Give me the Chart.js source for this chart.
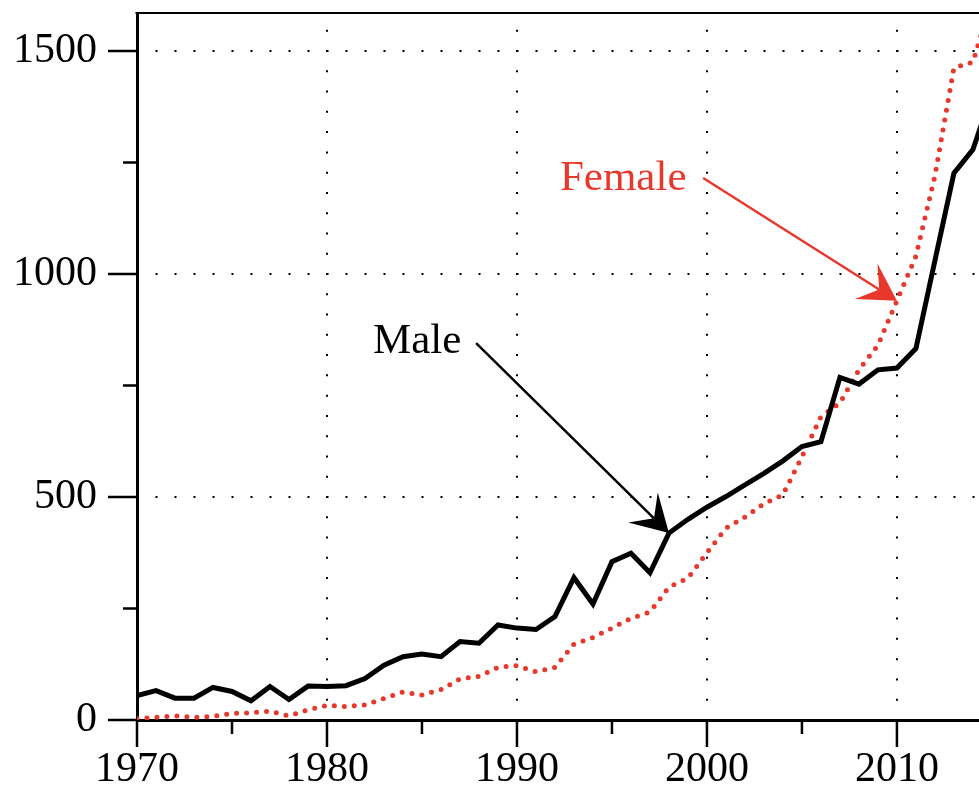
<!DOCTYPE html>
<html>
<head>
<meta charset="utf-8">
<title>Male / Female</title>
<script src="https://cdn.jsdelivr.net/npm/chart.js@4.4.1/dist/chart.umd.min.js"></script>
<style>
  html, body { margin: 0; padding: 0; background: #fff; }
  #wrap { width: 979px; height: 787px; position: relative; }
</style>
</head>
<body>
<div id="wrap"><canvas id="chart"></canvas></div>
<script>
// Yearly values
const years = [1970, 1971, 1972, 1973, 1974, 1975, 1976, 1977, 1978, 1979,
               1980, 1981, 1982, 1983, 1984, 1985, 1986, 1987, 1988, 1989,
               1990, 1991, 1992, 1993, 1994, 1995, 1996, 1997, 1998, 1999,
               2000, 2001, 2002, 2003, 2004, 2005, 2006, 2007, 2008, 2009,
               2010, 2011, 2012, 2013, 2014, 2015];
const male = [55, 66, 49, 49, 73, 64, 43, 75, 46, 76,
              75, 77, 93, 123, 142, 148, 142, 176, 172, 213,
              206, 203, 232, 319, 260, 355, 374, 330, 419, 450,
              477, 501, 527, 553, 581, 613, 624, 768, 753, 785,
              789, 833, 1030, 1226, 1279, 1405];
const female = [3, 6, 9, 6, 8, 15, 16, 20, 9, 23,
                33, 30, 34, 48, 63, 56, 68, 92, 98, 118,
                122, 108, 118, 170, 185, 206, 228, 242, 298, 318,
                375, 430, 455, 485, 505, 590, 680, 711, 785, 840,
                940, 1040, 1220, 1462, 1475, 1615];

const xTickValues = [1970, 1975, 1980, 1985, 1990, 1995, 2000, 2005, 2010];
const xLabelValues = [1970, 1980, 1990, 2000, 2010];
const yTickValues = [0, 250, 500, 750, 1000, 1250, 1500];
const yLabelValues = [0, 500, 1000, 1500];

const ink = '#000000';
const red = '#e8382c';
const serif = "'Liberation Serif', 'Times New Roman', serif";
const clear = 'rgba(0,0,0,0)';

// callouts, placed in data units; arrows point at a data point
const callouts = [
  { text: 'Male', color: ink, textAt: [1982.42, 822], from: [1987.85, 845], toYear: 1998, series: male },
  { text: 'Female', color: red, textAt: [1992.26, 1188], from: [1999.8, 1215], toYear: 2010, series: female }
];

function drawCallout(ctx, xs, ys, c) {
  const tx = xs.getPixelForValue(c.toYear);
  const ty = ys.getPixelForValue(c.series[years.indexOf(c.toYear)]);
  const fx = xs.getPixelForValue(c.from[0]);
  const fy = ys.getPixelForValue(c.from[1]);
  const back = Math.atan2(fy - ty, fx - tx);
  const len = 42, spread = 30 * Math.PI / 180;
  const nx = tx + len * 0.5 * Math.cos(back), ny = ty + len * 0.5 * Math.sin(back);

  ctx.strokeStyle = c.color;
  ctx.lineWidth = 2.5;
  ctx.beginPath();
  ctx.moveTo(fx, fy);
  ctx.lineTo(nx, ny);
  ctx.stroke();

  ctx.fillStyle = c.color;
  ctx.beginPath();
  ctx.moveTo(tx, ty);
  ctx.lineTo(tx + len * Math.cos(back + spread), ty + len * Math.sin(back + spread));
  ctx.lineTo(nx, ny);
  ctx.lineTo(tx + len * Math.cos(back - spread), ty + len * Math.sin(back - spread));
  ctx.closePath();
  ctx.fill();

  ctx.font = '43px ' + serif;
  ctx.textAlign = 'left';
  ctx.textBaseline = 'alphabetic';
  ctx.fillText(c.text, xs.getPixelForValue(c.textAt[0]), ys.getPixelForValue(c.textAt[1]));
}

// tick marks (long at labelled values), top frame line and the callouts
const axisDecor = {
  id: 'axisDecor',
  afterDraw(chart) {
    const { ctx, chartArea: area, scales: { x, y } } = chart;
    ctx.save();
    ctx.strokeStyle = ink;
    ctx.lineWidth = 2.5;
    ctx.beginPath();
    xTickValues.forEach(v => {
      const px = x.getPixelForValue(v);
      const len = xLabelValues.includes(v) ? 27 : 14;
      ctx.moveTo(px, area.bottom);
      ctx.lineTo(px, area.bottom + len);
    });
    yTickValues.forEach(v => {
      const py = y.getPixelForValue(v);
      const len = yLabelValues.includes(v) ? 29 : 14;
      ctx.moveTo(area.left, py);
      ctx.lineTo(area.left - len, py);
    });
    ctx.stroke();

    ctx.lineWidth = 2;
    ctx.beginPath();
    ctx.moveTo(area.left - 1.5, area.top);
    ctx.lineTo(area.right, area.top);
    ctx.stroke();

    callouts.forEach(c => drawCallout(ctx, x, y, c));
    ctx.restore();
  }
};

new Chart(document.getElementById('chart'), {
  type: 'line',
  data: {
    datasets: [
      {
        label: 'Male',
        data: years.map((yr, i) => ({ x: yr, y: male[i] })),
        borderColor: ink,
        borderWidth: 5,
        borderJoinStyle: 'miter',
        pointRadius: 0,
        tension: 0
      },
      {
        label: 'Female',
        data: years.map((yr, i) => ({ x: yr, y: female[i] })),
        borderColor: red,
        borderWidth: 5,
        borderDash: [0, 10],
        borderCapStyle: 'round',
        pointRadius: 0,
        tension: 0
      }
    ]
  },
  options: {
    responsive: true,
    maintainAspectRatio: false,
    animation: false,
    layout: { padding: { top: 13, right: 0, bottom: 0, left: 0 } },
    plugins: {
      legend: { display: false },
      tooltip: { enabled: false }
    },
    scales: {
      x: {
        type: 'linear',
        min: 1970,
        max: 2014.32,
        afterBuildTicks: s => { s.ticks = xTickValues.map(v => ({ value: v })); },
        afterFit: s => { s.height = 67; s.paddingLeft = 0; s.paddingRight = 0; },
        grid: {
          drawTicks: false,
          lineWidth: 2,
          color: c => (c.tick && c.tick.value !== 1970 && xLabelValues.includes(c.tick.value)) ? ink : clear
        },
        border: { color: ink, width: 3, dash: [2, 18.27], dashOffset: 3.5 },
        ticks: {
          color: ink,
          padding: 25,
          autoSkip: false,
          maxRotation: 0,
          minRotation: 0,
          font: { family: serif, size: 42 },
          callback: v => xLabelValues.includes(v) ? String(v) : ''
        }
      },
      y: {
        min: 0,
        max: 1585,
        afterBuildTicks: s => { s.ticks = yTickValues.map(v => ({ value: v })); },
        afterFit: s => { s.width = 137; s.paddingTop = 0; s.paddingBottom = 0; },
        grid: {
          drawTicks: false,
          lineWidth: 2,
          color: c => (c.tick && c.tick.value !== 0 && yLabelValues.includes(c.tick.value)) ? ink : clear
        },
        border: { color: ink, width: 3, dash: [2, 17], dashOffset: 2.5 },
        ticks: {
          color: ink,
          padding: 40,
          font: { family: serif, size: 42 },
          callback: v => yLabelValues.includes(v) ? String(v) : ''
        }
      }
    }
  },
  plugins: [axisDecor]
});
</script>
</body>
</html>
